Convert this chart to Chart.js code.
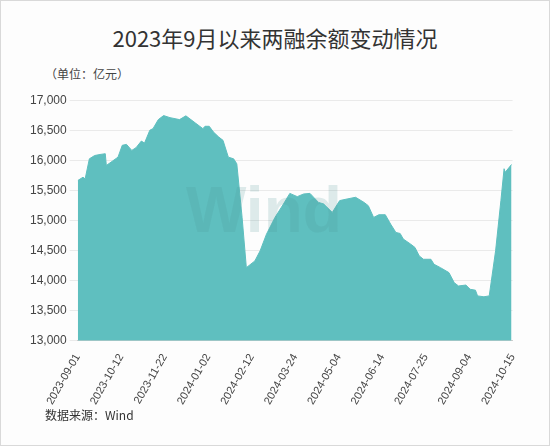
<!DOCTYPE html>
<html><head><meta charset="utf-8">
<script src="https://cdn.jsdelivr.net/npm/chart.js@4"></script>
<style>
html,body{margin:0;padding:0;background:#fff;}
#wrap{position:relative;width:548px;height:444px;border:1px solid #d9d9d9;background:#fdfdfd;font-family:"Noto Sans CJK SC",sans-serif;}
#title{position:absolute;top:20px;left:0;width:100%;text-align:center;font-size:22px;color:#333;}
#unit{position:absolute;top:64px;left:44px;font-size:12px;color:#444;}
#src{position:absolute;top:405px;left:44px;font-size:12px;color:#333;}
#wm{position:absolute;top:172px;left:185px;font:bold 64px "Liberation Sans",sans-serif;color:rgba(80,150,150,0.18);}
#c{position:absolute;left:26px;top:89px;}
</style></head><body>
<div id="wrap">
<div id="title">2023年9月以来两融余额变动情况</div>
<div id="unit">（单位：亿元）</div>
<canvas id="c" width="500" height="320"></canvas>
<div id="wm">Wind</div>
<div id="src">数据来源：Wind</div>
</div>
<script>
const dayOffsets=[0,5,7,11,16,21,26,27,38,42,46,51,55,60,63,68,71,76,81,87,96,102,111,118,120,124,128,133,137,142,147,150,155,159,167,172,178,186,194,200,207,213,219,227,232,240,247,254,262,270,274,279,284,290,295,300,304,307,314,318,322,326,333,336,342,350,355,359,366,370,375,377,383,388,394,399,402,403,409];
const balances=[15663,15719,15690,16025,16080,16097,16110,15914,16053,16250,16265,16165,16210,16320,16287,16500,16527,16677,16744,16710,16677,16740,16620,16527,16566,16566,16470,16387,16332,16053,16025,15942,15050,14215,14326,14494,14772,15050,15273,15450,15396,15440,15450,15300,15273,15133,15330,15357,15385,15300,15245,15050,15095,15095,14940,14800,14783,14690,14605,14550,14410,14354,14354,14270,14215,14132,13965,13910,13925,13855,13840,13745,13730,13745,14495,15330,15860,15800,15930];
const yTicks=[13000,13500,14000,14500,15000,15500,16000,16500,17000];
const startDate=Date.UTC(2023,8,1);
function fmt(d){const t=new Date(startDate+d*86400000);return t.getUTCFullYear()+'-'+String(t.getUTCMonth()+1).padStart(2,'0')+'-'+String(t.getUTCDate()).padStart(2,'0');}
new Chart(document.getElementById('c'),{
type:'line',
data:{datasets:[{data:dayOffsets.map((d,i)=>({x:d,y:balances[i]})),fill:'origin',backgroundColor:'#5fbfbf',borderColor:'#5fbfbf',borderWidth:1,pointRadius:0,tension:0}]},
options:{responsive:false,animation:false,
plugins:{legend:{display:false},tooltip:{enabled:false}},
scales:{
x:{type:'linear',min:0,max:410,afterBuildTicks:a=>{a.ticks=[];for(let v=0;v<=410;v+=41)a.ticks.push({value:v});},
ticks:{callback:v=>fmt(v),maxRotation:60,minRotation:60,color:'#444',font:{size:11,family:'"Liberation Sans"'}},
grid:{display:false},border:{color:'#ccc'}},
y:{min:13000,max:17000,afterBuildTicks:a=>{a.ticks=yTicks.map(v=>({value:v}));},
ticks:{callback:v=>v.toLocaleString('en-US'),color:'#444',font:{size:12,family:'"Liberation Sans"'}},
grid:{color:'#eaeaea'},border:{display:false}}
}}
});
</script>
</body></html>
